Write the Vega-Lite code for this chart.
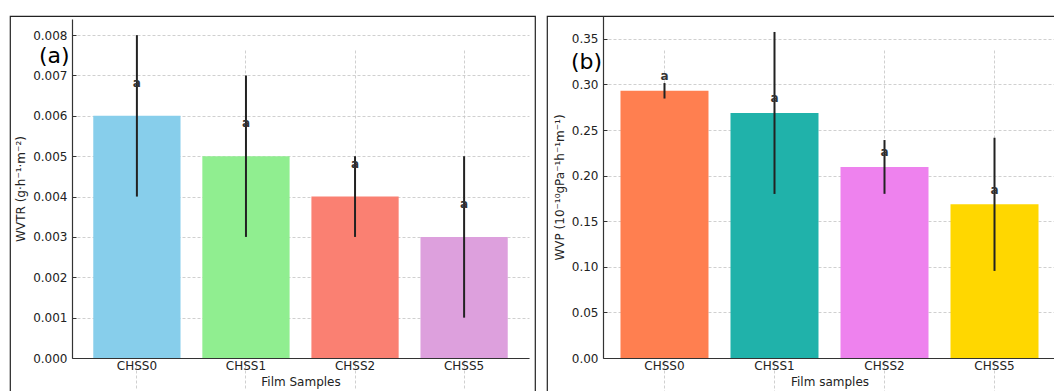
{
  "$schema": "https://vega.github.io/schema/vega-lite/v6.json",
  "padding": {"left": 9, "top": 15, "right": 0, "bottom": 0},
  "autosize": {"type": "pad"},
  "spacing": 10,
  "background": "white",
  "config": {
    "font": "DejaVu Sans",
    "axis": {
      "labelFont": "DejaVu Sans",
      "titleFont": "DejaVu Sans",
      "labelFontSize": 12,
      "titleFontSize": 12,
      "titleFontWeight": "normal",
      "labelColor": "#222222",
      "titleColor": "#222222",
      "domainColor": "#333333",
      "domainWidth": 1.2,
      "tickColor": "#333333",
      "tickSize": -4,
      "tickWidth": 1,
      "titlePadding": 5,
      "grid": true,
      "gridColor": "#c4c4c4",
      "gridDash": [3, 2],
      "gridWidth": 0.8,
      "zindex": 1
    },
    "axisX": {"labelPadding": 6},
    "axisY": {"labelPadding": 9}
  },
  "datasets": {
    "wvtr": [
      {"sample": "CHSS0", "value": 0.006, "err": 0.002, "label": "a"},
      {"sample": "CHSS1", "value": 0.005, "err": 0.002, "label": "a"},
      {"sample": "CHSS2", "value": 0.004, "err": 0.001, "label": "a"},
      {"sample": "CHSS5", "value": 0.003, "err": 0.002, "label": "a"}
    ],
    "wvp": [
      {"sample": "CHSS0", "value": 0.293, "err": 0.0085, "label": "a"},
      {"sample": "CHSS1", "value": 0.2687, "err": 0.0888, "label": "a"},
      {"sample": "CHSS2", "value": 0.2095, "err": 0.0295, "label": "a"},
      {"sample": "CHSS5", "value": 0.1685, "err": 0.073, "label": "a"}
    ]
  },
  "hconcat": [
    {
      "width": 525,
      "height": 376,
      "view": {"stroke": "#222222", "strokeWidth": 1.2, "strokeDash": [901, 525, 376], "fill": "white"},
      "title": {"text": "(a)", "anchor": "start", "frame": "group", "orient": "top", "offset": 0, "dx": 29, "dy": 69, "fontSize": 22, "fontWeight": "normal", "font": "DejaVu Sans", "color": "#000000", "baseline": "alphabetic"},
      "data": {"name": "wvtr"},
      "encoding": {
        "x": {
          "field": "sample", "type": "nominal", "sort": null,
          "scale": {"range": [62, 519], "paddingInner": 0.2, "paddingOuter": 0.195},
          "axis": {"title": "Film Samples", "labelAngle": 0, "offset": -34}
        },
        "y": {
          "field": "value", "type": "quantitative", "title": "WVTR (g·h⁻¹·m⁻²)",
          "scale": {"domain": [0, 0.0084], "range": [342, 3], "nice": false, "zero": false},
          "axis": {"title": "WVTR (g·h⁻¹·m⁻²)", "format": ".3f", "values": [0, 0.001, 0.002, 0.003, 0.004, 0.005, 0.006, 0.007, 0.008], "offset": -62}
        }
      },
      "layer": [
        {
          "mark": {"type": "bar"},
          "encoding": {
            "color": {
              "field": "sample", "type": "nominal",
              "scale": {"domain": ["CHSS0", "CHSS1", "CHSS2", "CHSS5"], "range": ["#87CEEB", "#90EE90", "#FA8072", "#DDA0DD"]},
              "legend": null
            }
          }
        },
        {
          "mark": {"type": "errorbar", "ticks": false, "thickness": 2, "color": "#222222"},
          "encoding": {
            "yError": {"field": "err"}
          }
        },
        {
          "mark": {"type": "text", "dy": -33, "fontSize": 12, "fontWeight": "bold", "color": "#333333", "baseline": "middle"},
          "encoding": {
            "text": {"field": "label"}
          }
        }
      ]
    },
    {
      "width": 510,
      "height": 376,
      "view": {"stroke": "#222222", "strokeWidth": 1.2, "strokeDash": [510, 886, 376], "fill": "white"},
      "title": {"text": "(b)", "anchor": "start", "frame": "group", "orient": "top", "offset": 0, "dx": 24, "dy": 75, "fontSize": 22, "fontWeight": "normal", "font": "DejaVu Sans", "color": "#000000", "baseline": "alphabetic"},
      "data": {"name": "wvp"},
      "encoding": {
        "x": {
          "field": "sample", "type": "nominal", "sort": null,
          "scale": {"range": [56, 509], "paddingInner": 0.2, "paddingOuter": 0.159, "align": 0.5},
          "axis": {"title": "Film samples", "labelAngle": 0, "offset": -34}
        },
        "y": {
          "field": "value", "type": "quantitative", "title": "WVP (10⁻¹⁰gPa⁻¹h⁻¹m⁻¹)",
          "scale": {"domain": [0, 0.375], "range": [342, 0], "nice": false, "zero": false},
          "axis": {"title": "WVP (10⁻¹⁰gPa⁻¹h⁻¹m⁻¹)", "format": ".2f", "values": [0, 0.05, 0.1, 0.15, 0.2, 0.25, 0.3, 0.35], "offset": -56}
        }
      },
      "layer": [
        {
          "mark": {"type": "bar"},
          "encoding": {
            "color": {
              "field": "sample", "type": "nominal",
              "scale": {"domain": ["CHSS0", "CHSS1", "CHSS2", "CHSS5"], "range": ["#FF7F50", "#20B2AA", "#EE82EE", "#FFD700"]},
              "legend": null
            }
          }
        },
        {
          "mark": {"type": "errorbar", "ticks": false, "thickness": 2, "color": "#222222"},
          "encoding": {
            "yError": {"field": "err"}
          }
        },
        {
          "mark": {"type": "text", "dy": -14.5, "fontSize": 12, "fontWeight": "bold", "color": "#333333", "baseline": "middle"},
          "encoding": {
            "text": {"field": "label"}
          }
        }
      ]
    }
  ],
  "resolve": {"scale": {"color": "independent"}}
}
